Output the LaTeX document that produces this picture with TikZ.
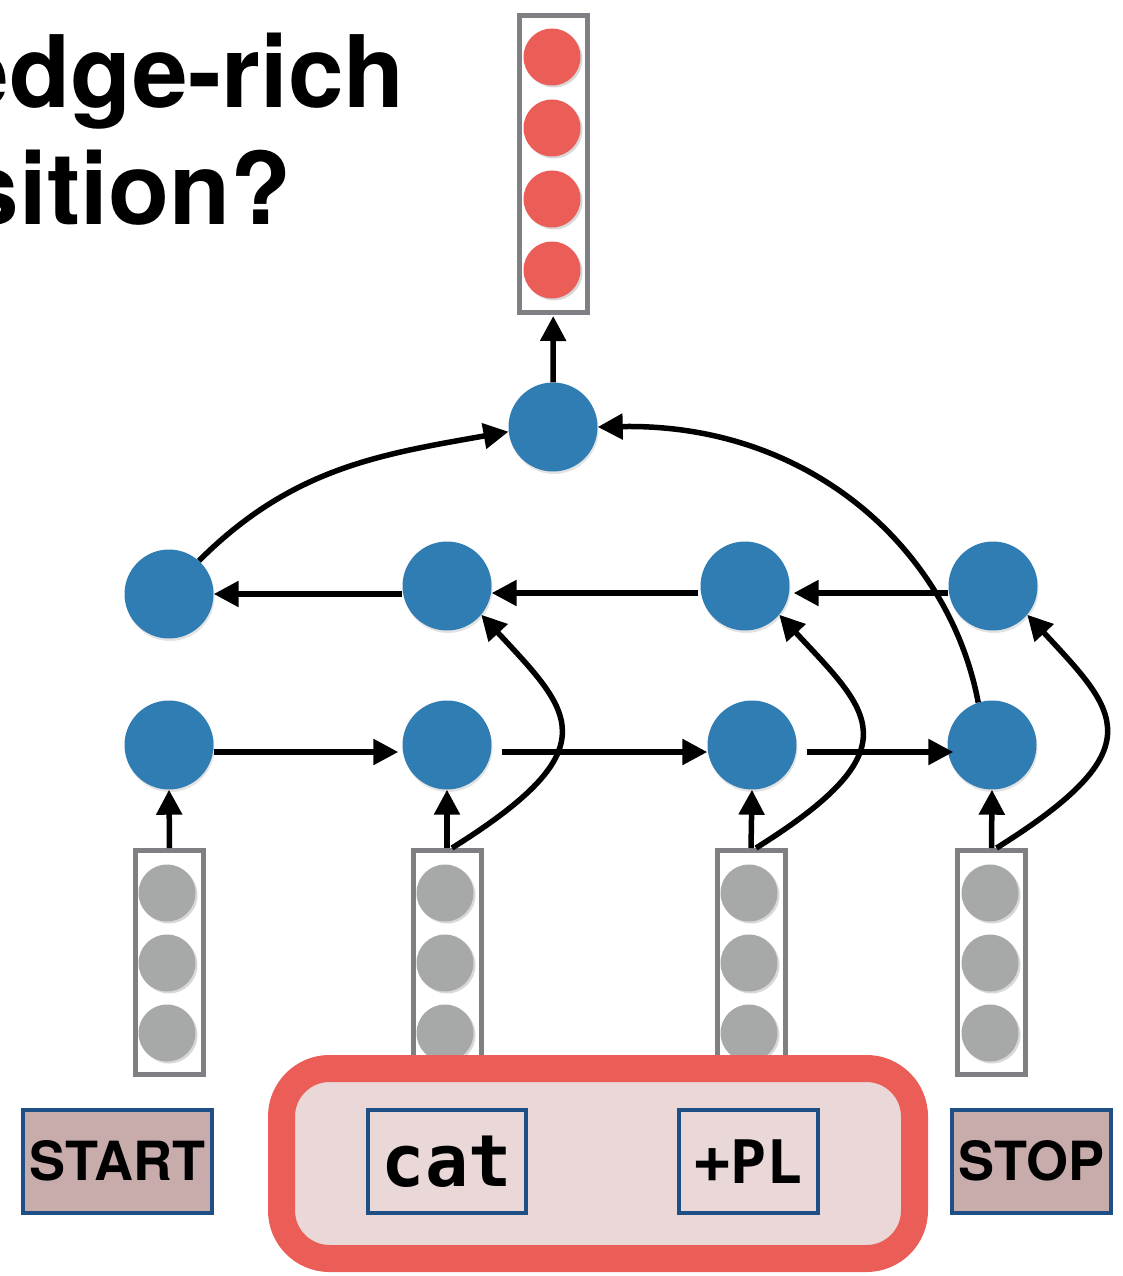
\documentclass[tikz,border=0pt]{standalone}
\usepackage{fontspec}
\setmainfont{TeX Gyre Heros}
\newfontfamily\codefont{DejaVu Sans Mono}
\usetikzlibrary{arrows.meta,shadows}
\definecolor{nodeblue}{HTML}{2F7DB3}
\definecolor{outred}{HTML}{EB5E58}
\definecolor{ingray}{HTML}{A7A9A8}
\definecolor{boxgray}{HTML}{7E8084}
\definecolor{tagfill}{HTML}{C8ACAC}
\definecolor{tagblue}{HTML}{1F5085}
\definecolor{panelfill}{HTML}{EAD7D7}
\begin{document}
\begin{tikzpicture}[x=1pt,y=-1pt,
  hid/.style={circle,fill=nodeblue,minimum size=89pt,inner sep=0pt,
    drop shadow={shadow xshift=1pt,shadow yshift=-2.5pt,opacity=0.22}},
  unit/.style={circle,minimum size=57pt,inner sep=0pt,
    drop shadow={shadow xshift=2pt,shadow yshift=-2pt,opacity=0.3}},
  vecbox/.style={draw=boxgray,line width=5pt,fill=white,minimum width=68pt,inner sep=0pt},
  arr/.style={line width=5.5pt,-{Triangle[length=25pt,width=25pt]}},
  tag/.style={draw=tagblue,line width=4pt,minimum height=103pt,inner sep=0pt},
  title/.style={anchor=base east,inner sep=0pt,font=\fontsize{100}{110}\selectfont\bfseries}
]
\useasboundingbox (0,0) rectangle (1123,1276);
\clip (0,0) rectangle (1123,1276);

% title fragments
\node[title] (t1) at (405,108) {edge-rich};
\node[title] (t2) at (292,224) {sition?};

% output vector
\node[vecbox,minimum height=297pt] (out) at (553.5,164) {};
\foreach \yy [count=\i] in {57,128,199,270}
  \node[unit,fill=outred] (o\i) at (552,\yy) {};

% hidden nodes
\node[hid] (top) at (553,427) {};
\node[hid] (b1) at (169,594) {};
\node[hid] (b2) at (447,586) {};
\node[hid] (b3) at (745,586) {};
\node[hid] (b4) at (993,586) {};
\node[hid] (f1) at (169,745) {};
\node[hid] (f2) at (447,745) {};
\node[hid] (f3) at (752,745) {};
\node[hid] (f4) at (992,745) {};

% input vectors
\node[vecbox,minimum height=224pt] (in1) at (169.5,962.5) {};
\node[vecbox,minimum height=224pt] (in2) at (447,962.5) {};
\node[vecbox,minimum height=224pt] (in3) at (751,962.5) {};
\node[vecbox,minimum height=224pt] (in4) at (991.5,962.5) {};
\foreach \xx/\k in {167/1,445/2,749/3,990/4}
  \foreach \yy/\j in {893/1,963/2,1033/3}
    \node[unit,fill=ingray] (u\k\j) at (\xx,\yy) {};

% bottom panel and tags
\node[draw=outred,line width=27pt,fill=panelfill,rounded corners=48pt,
  minimum width=633pt,minimum height=190pt,inner sep=0pt,
  drop shadow={shadow xshift=2pt,shadow yshift=-3pt,opacity=0.25}] (panel) at (598,1163.5) {};
\node[tag,fill=tagfill,minimum width=189pt,font=\fontsize{54}{60}\selectfont\bfseries] (start) at (117.5,1161) {\raisebox{-4pt}{START}};
\node[tag,fill=tagfill,minimum width=159pt,font=\fontsize{54}{60}\selectfont\bfseries] (stop) at (1031.5,1161) {\raisebox{-4pt}{STOP}};
\node[tag,minimum width=158pt,font=\codefont\fontsize{72}{80}\selectfont\bfseries] (cat) at (447,1161.5) {cat};
\node[tag,minimum width=139pt,font=\codefont\fontsize{60}{70}\selectfont\bfseries] (pl) at (748.5,1161.5) {+PL};

% connectors
\draw[arr,shorten >=1pt] (top) -- (out);
\draw[arr,shorten >=4pt] ([yshift=-7pt]f1.east) -- ([yshift=-7pt]f2.west);
\draw[arr] ([xshift=10pt,yshift=-7pt]f2.east) -- ([yshift=-7pt]f3.west);
\draw[arr,shorten >=-6pt] ([xshift=10pt,yshift=-7pt]f3.east) -- ([yshift=-7pt]f4.west);
\draw[arr,shorten >=4pt] ([yshift=-7pt]b4.west) -- ([yshift=-7pt]b3.east);
\draw[arr] ([xshift=-2pt,yshift=-7pt]b3.west) -- ([yshift=-7pt]b2.east);
\draw[arr] ([yshift=-8pt]b2.west) -- (b1.east);
\draw[arr] (in1.north) -- (f1.south);
\draw[arr] (in2.north) -- (f2.south);
\draw[arr] (in3.north) -- (f3.south);
\draw[arr] (in4.north) -- (f4.south);
\draw[arr] ([xshift=5pt]in2.north) .. controls +(160,-100) and +(90,97) .. (b2.-40);
\draw[arr] ([xshift=5pt]in3.north) .. controls +(160,-100) and +(90,97) .. (b3.-40);
\draw[arr] ([xshift=5pt]in4.north) .. controls +(160,-100) and +(90,97) .. (b4.-40);
\draw[arr] (b1.48) to[out=45,in=190] (top.186);
\draw[arr] (f4.108) .. controls +(-28,-150) and +(215,-4) .. (top.east);
\end{tikzpicture}
\end{document}
